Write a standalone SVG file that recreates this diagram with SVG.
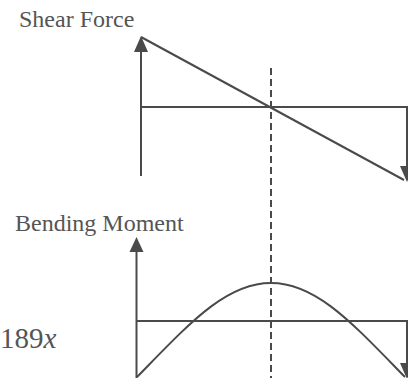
<svg xmlns="http://www.w3.org/2000/svg" width="408" height="378" viewBox="0 0 408 378">
<defs>
<style>
.ln{fill:none;stroke:#4a4a4a;stroke-width:2}
.dash{fill:none;stroke:#4a4a4a;stroke-width:2;stroke-dasharray:7 4}
.ah{fill:#4a4a4a;stroke:none}
.t{font-family:"Liberation Serif","Times New Roman",serif;fill:#555;font-size:24px}
</style>
</defs>
<rect width="408" height="378" fill="#fff"/>
<g id="shear-force">
<text class="t" x="19" y="27">Shear Force</text>
<line class="ln" x1="141" y1="176" x2="141" y2="45"/>
<polygon class="ah" points="141,36 134,52 148,52"/>
<polyline class="ln" points="141,107 407,107 407,170"/>
<line class="ln" x1="141" y1="37" x2="404" y2="180"/>
<polygon class="ah" points="407,182 400,166 414,166"/>
</g>
<g id="bending-moment">
<text class="t" x="15" y="231">Bending Moment</text>
<line class="ln" x1="136.5" y1="378" x2="136.5" y2="246"/>
<polygon class="ah" points="136.5,237 129.5,252 143.5,252"/>
<polyline class="ln" points="136.5,321 407,321 407,368"/>
<path class="ln" d="M137,377 C188,325 225,283 271,283 C317,283 354,325 405,377"/>
<polygon class="ah" points="407,379 400,363 414,363"/>
</g>
<g id="connectors">
<line class="dash" x1="271" y1="68" x2="271" y2="378"/>
</g>
<text class="t" x="0" y="348" style="font-size:29px">189<tspan font-style="italic">x</tspan></text>
</svg>
